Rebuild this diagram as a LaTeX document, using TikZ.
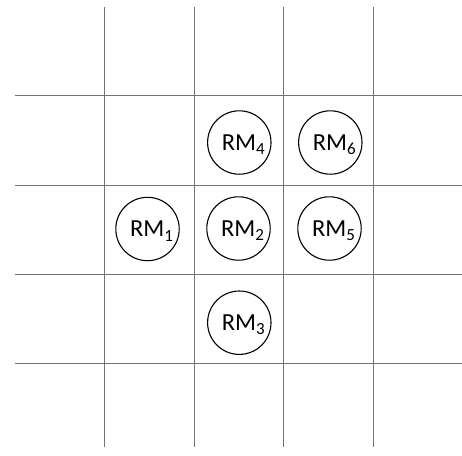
\documentclass[tikz,border=0pt]{standalone}
\usepackage{fontspec}
\setmainfont{Carlito}
\tikzset{
  x=1pt, y=-1pt,
  gridline/.style={draw=black!55, line width=0.9pt},
  rmcircle/.style={circle, draw=black, line width=1.1pt, minimum size=63.4pt, inner sep=0pt},
  rmtext/.style={anchor=base, inner sep=0pt, font=\fontsize{24.5}{28}\selectfont}
}
\newcommand{\rmsub}[1]{RM\raisebox{-4.5pt}{\fontsize{17}{20}\selectfont #1}}
\begin{document}
\begin{tikzpicture}
\useasboundingbox (0,0) rectangle (462,455);
% grid
\foreach \gx in {104.3,194,283.3,373} {
  \draw[gridline] (\gx,7) -- (\gx,447);
}
\foreach \gy in {95.7,185,274,363} {
  \draw[gridline] (14.7,\gy) -- (462,\gy);
}
% circles
\node[rmcircle] (rm1) at (147.5,229) {};
\node[rmcircle] (rm2) at (238.5,228.5) {};
\node[rmcircle] (rm3) at (239.3,322.7) {};
\node[rmcircle] (rm4) at (239.3,142.5) {};
\node[rmcircle] (rm5) at (329.5,228.5) {};
\node[rmcircle] (rm6) at (330.3,142.5) {};
% labels
\node[rmtext] (t1) at ([xshift=4pt,yshift=-7.5pt]rm1.center) {\rmsub{1}};
\node[rmtext] (t2) at ([xshift=4pt,yshift=-7.5pt]rm2.center) {\rmsub{2}};
\node[rmtext] (t3) at ([xshift=4pt,yshift=-7.5pt]rm3.center) {\rmsub{3}};
\node[rmtext] (t4) at ([xshift=4pt,yshift=-7.5pt]rm4.center) {\rmsub{4}};
\node[rmtext] (t5) at ([xshift=4pt,yshift=-7.5pt]rm5.center) {\rmsub{5}};
\node[rmtext] (t6) at ([xshift=4pt,yshift=-7.5pt]rm6.center) {\rmsub{6}};
\end{tikzpicture}
\end{document}
